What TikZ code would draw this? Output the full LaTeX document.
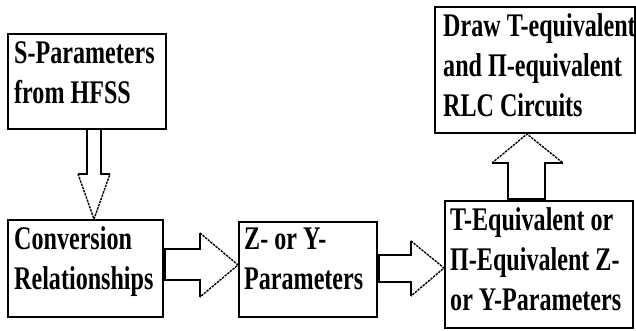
\documentclass[tikz,border=0pt]{standalone}
\usepackage{fontspec}
\setmainfont{Liberation Serif}[FakeStretch=0.73]
\usetikzlibrary{fit,calc}
\begin{document}
\begin{tikzpicture}[x=1pt,y=-1pt,
  box/.style={draw, line width=2pt, inner sep=0pt},
  lbl/.style={anchor=base west, align=left, inner sep=0pt,
    font=\bfseries\fontsize{33}{40}\selectfont},
  shaft/.style={line width=1.6pt},
  basebar/.style={line width=3.5pt},
  headline/.style={line width=1.4pt, dash pattern=on 2.4pt off 1pt}]
\useasboundingbox (0,0) rectangle (636,331);

% boxes
\node[box, fit={(8,34) (166,129)}]   (b1) {};
\node[box, fit={(8,220) (163,317)}]  (b2) {};
\node[box, fit={(239,222) (377,317)}] (b3) {};
\node[box, fit={(445,201) (633,328)}] (b4) {};
\node[box, fit={(435,7) (635,133)}]   (b5) {};

% labels (anchored at the baseline of their last line; lines are 40pt apart)
\node[lbl] (t1) at ($(b1.north west)+(7,71)$) {S-Parameters\\from HFSS};
\node[lbl] (t2) at ($(b2.north west)+(7,70)$) {Conversion\\Relationships};
\node[lbl] (t3) at ($(b3.north west)+(6,68)$) {Z- or Y-\\Parameters};
\node[lbl] (t4) at ($(b4.north west)+(6,110)$) {T-Equivalent or\\Π-Equivalent Z-\\or Y-Parameters};
\node[lbl] (t5) at ($(b5.north west)+(9,111)$) {Draw T-equivalent\\and Π-equivalent\\RLC Circuits};

% block arrow b1 -> b2 (down)
\draw[shaft] (87,0 |- b1.south) -- (87,174) -- (78,174);
\draw[shaft] (101,0 |- b1.south) -- (101,174) -- (110,174);
\draw[headline] (78,174) -- (94,0 |- b2.north) -- (110,174);

% block arrow b2 -> b3 (right)
\draw[shaft] (b2.east |- 0,249) -- (200,249) -- (200,233);
\draw[shaft] (b2.east |- 0,280) -- (200,280) -- (200,297);
\draw[basebar] (b2.east |- 0,249) -- (b2.east |- 0,280);
\draw[headline] (200,233) -- (b3.west |- 0,265) -- (200,297);

% block arrow b3 -> b4 (right)
\draw[shaft] (b3.east |- 0,255) -- (411,255) -- (411,241);
\draw[shaft] (b3.east |- 0,282) -- (411,282) -- (411,296);
\draw[basebar] (b3.east |- 0,255) -- (b3.east |- 0,282);
\draw[headline] (411,241) -- (b4.west |- 0,268) -- (411,296);

% block arrow b4 -> b5 (up)
\draw[shaft] (508,0 |- b4.north) -- (508,163) -- (492,163);
\draw[shaft] (545,0 |- b4.north) -- (545,163) -- (563,163);
\draw[basebar] (508,0 |- b4.north) -- (545,0 |- b4.north);
\draw[headline] (492,163) -- (527,0 |- b5.south) -- (563,163);
\end{tikzpicture}
\end{document}
